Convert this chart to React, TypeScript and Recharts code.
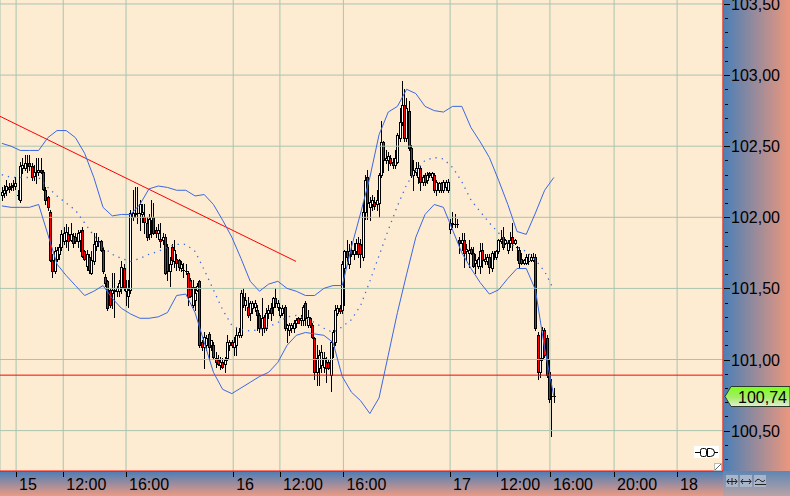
import {
  ComposedChart,
  Bar,
  Line,
  XAxis,
  YAxis,
  CartesianGrid,
  ReferenceLine,
} from "recharts";

// 15-minute candles, bar index 0..240
const open = [
  102.16, 102.17, 102.19, 102.21, 102.21, 102.22, 102.22, 102.16, 102.12, 102.35,
  102.35, 102.38, 102.38, 102.36, 102.29, 102.32, 102.32, 102.33, 102.32, 102.19,
  102.14, 102.04, 101.70, 101.62, 101.71, 101.74, 101.79, 101.83, 101.84, 101.88,
  101.84, 101.87, 101.86, 101.83, 101.84, 101.91, 101.76, 101.66, 101.72, 101.61,
  101.69, 101.80, 101.83, 101.83, 101.77, 101.58, 101.55, 101.49, 101.47, 101.48,
  101.48, 101.48, 101.51, 101.64, 101.48, 101.45, 101.49, 102.00, 102.02, 102.03,
  102.03, 102.02, 102.00, 101.96, 101.88, 101.98, 102.00, 101.91, 101.89, 101.85,
  101.84, 101.86, 101.79, 101.62, 101.79, 101.69, 101.71, 101.70, 101.64, 101.63,
  101.62, 101.61, 101.56, 101.38, 101.42, 101.49, 101.55, 101.12, 101.09, 101.10,
  101.18, 101.10, 101.10, 101.01, 101.00, 100.96, 100.98, 100.97, 101.01, 101.10,
  101.12, 101.09, 101.10, 101.17, 101.17, 101.44, 101.38, 101.37, 101.33, 101.36,
  101.37, 101.35, 101.31, 101.22, 101.30, 101.22, 101.33, 101.36, 101.37, 101.43,
  101.37, 101.31, 101.33, 101.37, 101.22, 101.21, 101.22, 101.22, 101.26, 101.29,
  101.28, 101.28, 101.40, 101.24, 101.29, 101.24, 101.15, 100.91, 100.94, 100.96,
  100.95, 100.98, 100.98, 100.89, 101.09, 101.12, 101.33, 101.36, 101.35, 101.64,
  101.76, 101.67, 101.77, 101.74, 101.76, 101.82, 101.81, 101.72, 102.04, 102.28,
  102.07, 102.09, 102.11, 102.09, 102.10, 102.30, 102.53, 102.40, 102.40, 102.42,
  102.39, 102.37, 102.39, 102.56, 102.67, 102.79, 102.56, 102.75, 102.49, 102.30,
  102.32, 102.28, 102.35, 102.25, 102.30, 102.26, 102.31, 102.28, 102.30, 102.19,
  102.19, 102.24, 102.19, 102.21, 102.19, 101.92, 101.95, 101.95, 101.95, 101.84,
  101.82, 101.84, 101.76, 101.75, 101.78, 101.75, 101.68, 101.66, 101.66, 101.77,
  101.69, 101.69, 101.72, 101.64, 101.74, 101.72, 101.76, 101.83, 101.86, 101.82,
  101.77, 101.82, 101.86, 101.82, 101.79, 101.77, 101.71, 101.68, 101.68, 101.69,
  101.70, 101.70, 101.72, 101.17, 100.91, 101.01, 101.21, 101.15, 100.91, 100.74,
  100.74,
];

const high = [
  102.21, 102.23, 102.26, 102.24, 102.24, 102.26, 102.28, 102.19, 102.39, 102.42,
  102.44, 102.44, 102.44, 102.38, 102.37, 102.42, 102.42, 102.42, 102.33, 102.21,
  102.15, 102.05, 101.74, 101.79, 101.79, 101.81, 101.91, 101.93, 101.95, 101.93,
  101.96, 101.89, 101.89, 101.91, 101.91, 101.93, 101.77, 101.77, 101.74, 101.76,
  101.89, 101.89, 101.86, 101.84, 101.79, 101.60, 101.56, 101.50, 101.61, 101.61,
  101.52, 101.56, 101.69, 101.67, 101.56, 101.56, 102.05, 102.19, 102.21, 102.21,
  102.12, 102.09, 102.09, 102.00, 102.02, 102.12, 102.10, 101.93, 101.95, 101.96,
  101.89, 101.88, 101.81, 101.72, 101.81, 101.84, 101.74, 101.71, 101.69, 101.68,
  101.67, 101.62, 101.57, 101.56, 101.51, 101.54, 101.56, 101.14, 101.19, 101.17,
  101.19, 101.14, 101.12, 101.05, 101.03, 101.02, 101.01, 101.02, 101.17, 101.14,
  101.14, 101.16, 101.23, 101.22, 101.49, 101.50, 101.47, 101.44, 101.41, 101.41,
  101.42, 101.38, 101.33, 101.43, 101.31, 101.36, 101.38, 101.40, 101.44, 101.50,
  101.42, 101.37, 101.38, 101.38, 101.25, 101.26, 101.26, 101.28, 101.29, 101.30,
  101.31, 101.38, 101.41, 101.35, 101.30, 101.26, 101.16, 101.10, 101.07, 101.10,
  101.05, 101.02, 101.00, 101.13, 101.21, 101.38, 101.38, 101.38, 101.69, 101.77,
  101.84, 101.81, 101.83, 101.82, 101.85, 101.86, 101.85, 102.11, 102.30, 102.33,
  102.14, 102.16, 102.14, 102.19, 102.31, 102.68, 102.54, 102.47, 102.46, 102.44,
  102.42, 102.47, 102.59, 102.77, 102.96, 102.90, 102.84, 102.82, 102.51, 102.40,
  102.39, 102.39, 102.36, 102.30, 102.31, 102.32, 102.32, 102.32, 102.31, 102.26,
  102.25, 102.25, 102.26, 102.26, 102.27, 101.99, 102.04, 102.02, 101.99, 101.86,
  101.89, 101.89, 101.81, 101.84, 101.79, 101.79, 101.74, 101.72, 101.82, 101.82,
  101.74, 101.74, 101.74, 101.76, 101.76, 101.77, 101.85, 101.91, 101.93, 101.85,
  101.84, 101.90, 101.96, 101.85, 101.80, 101.79, 101.75, 101.71, 101.74, 101.74,
  101.74, 101.75, 101.74, 101.19, 101.01, 101.23, 101.22, 101.17, 101.00, 100.86,
  100.80,
];

const low = [
  102.12, 102.14, 102.16, 102.18, 102.19, 102.19, 102.20, 102.13, 102.11, 102.31,
  102.33, 102.32, 102.33, 102.26, 102.26, 102.24, 102.30, 102.31, 102.19, 102.09,
  102.05, 101.69, 101.58, 101.61, 101.69, 101.71, 101.77, 101.81, 101.79, 101.77,
  101.83, 101.79, 101.82, 101.79, 101.76, 101.72, 101.70, 101.63, 101.61, 101.60,
  101.67, 101.77, 101.80, 101.76, 101.61, 101.52, 101.35, 101.37, 101.36, 101.30,
  101.45, 101.45, 101.47, 101.49, 101.38, 101.37, 101.47, 101.98, 102.00, 101.96,
  101.91, 101.97, 101.89, 101.84, 101.85, 101.86, 101.88, 101.86, 101.85, 101.79,
  101.81, 101.60, 101.56, 101.52, 101.67, 101.65, 101.63, 101.63, 101.62, 101.58,
  101.60, 101.38, 101.44, 101.37, 101.35, 101.48, 101.09, 101.07, 100.94, 101.07,
  101.01, 101.07, 101.01, 100.95, 100.96, 100.93, 100.94, 100.91, 101.00, 101.07,
  101.09, 101.03, 101.03, 101.16, 101.16, 101.37, 101.35, 101.30, 101.28, 101.33,
  101.34, 101.21, 101.19, 101.17, 101.19, 101.21, 101.29, 101.28, 101.31, 101.37,
  101.35, 101.30, 101.31, 101.21, 101.12, 101.17, 101.19, 101.19, 101.23, 101.26,
  101.24, 101.24, 101.24, 101.23, 101.23, 101.15, 100.86, 100.82, 100.82, 100.91,
  100.91, 100.84, 100.93, 100.78, 101.02, 101.10, 101.31, 101.33, 101.33, 101.38,
  101.69, 101.64, 101.73, 101.71, 101.74, 101.72, 101.65, 101.70, 101.99, 101.99,
  101.98, 102.05, 102.06, 102.05, 102.00, 102.28, 102.32, 102.38, 102.33, 102.37,
  102.35, 102.35, 102.38, 102.54, 102.65, 102.54, 102.54, 102.47, 102.28, 102.19,
  102.30, 102.24, 102.19, 102.23, 102.23, 102.24, 102.28, 102.26, 102.18, 102.16,
  102.18, 102.18, 102.18, 102.19, 102.18, 101.89, 101.93, 101.93, 101.93, 101.75,
  101.77, 101.65, 101.70, 101.65, 101.74, 101.65, 101.61, 101.64, 101.61, 101.65,
  101.67, 101.67, 101.61, 101.62, 101.71, 101.71, 101.75, 101.82, 101.78, 101.81,
  101.75, 101.79, 101.77, 101.81, 101.70, 101.65, 101.67, 101.67, 101.67, 101.67,
  101.69, 101.69, 101.21, 100.86, 100.88, 101.00, 101.02, 100.88, 100.70, 100.46,
  100.70,
];

const close = [
  102.18, 102.19, 102.22, 102.20, 102.22, 102.23, 102.24, 102.16, 102.36, 102.37,
  102.38, 102.38, 102.36, 102.28, 102.32, 102.32, 102.33, 102.32, 102.20, 102.12,
  102.07, 101.70, 101.62, 101.76, 101.77, 101.79, 101.88, 101.89, 101.90, 101.83,
  101.88, 101.82, 101.83, 101.89, 101.90, 101.73, 101.71, 101.74, 101.63, 101.70,
  101.81, 101.83, 101.83, 101.77, 101.62, 101.54, 101.36, 101.38, 101.49, 101.49,
  101.50, 101.54, 101.65, 101.51, 101.50, 101.49, 102.03, 102.03, 102.03, 102.03,
  102.09, 102.04, 101.97, 101.86, 101.99, 102.00, 101.89, 101.89, 101.91, 101.83,
  101.86, 101.61, 101.62, 101.67, 101.70, 101.77, 101.68, 101.65, 101.67, 101.63,
  101.62, 101.44, 101.45, 101.51, 101.47, 101.52, 101.10, 101.09, 101.16, 101.15,
  101.09, 101.14, 101.02, 100.98, 100.97, 100.98, 100.95, 101.00, 101.12, 101.12,
  101.10, 101.12, 101.17, 101.19, 101.47, 101.38, 101.42, 101.31, 101.40, 101.40,
  101.40, 101.31, 101.22, 101.29, 101.22, 101.33, 101.35, 101.33, 101.43, 101.40,
  101.40, 101.36, 101.36, 101.22, 101.24, 101.24, 101.24, 101.26, 101.28, 101.26,
  101.29, 101.37, 101.29, 101.30, 101.24, 101.16, 100.91, 101.01, 101.03, 101.05,
  101.01, 100.94, 100.94, 101.12, 101.19, 101.35, 101.36, 101.34, 101.67, 101.76,
  101.72, 101.76, 101.74, 101.77, 101.82, 101.74, 101.74, 102.04, 102.26, 102.10,
  102.11, 102.12, 102.08, 102.12, 102.30, 102.53, 102.40, 102.42, 102.43, 102.38,
  102.37, 102.42, 102.58, 102.67, 102.79, 102.56, 102.77, 102.49, 102.30, 102.33,
  102.35, 102.35, 102.25, 102.28, 102.25, 102.30, 102.30, 102.31, 102.19, 102.25,
  102.24, 102.19, 102.25, 102.25, 102.25, 101.96, 101.96, 101.95, 101.95, 101.82,
  101.84, 101.75, 101.78, 101.77, 101.75, 101.66, 101.70, 101.71, 101.76, 101.70,
  101.71, 101.72, 101.65, 101.75, 101.74, 101.76, 101.84, 101.85, 101.79, 101.84,
  101.82, 101.84, 101.82, 101.84, 101.79, 101.68, 101.68, 101.70, 101.72, 101.69,
  101.72, 101.72, 101.22, 100.91, 101.00, 101.21, 101.03, 100.89, 100.72, 100.74,
  100.74,
];

// Bollinger bands, read every 4th bar
const BB_STEP = 4;
const bbUpper = [
  102.52, 102.50, 102.47, 102.47, 102.47, 102.56, 102.61, 102.61, 102.56, 102.45,
  102.28, 102.07, 102.01, 102.02, 102.02, 102.09, 102.20, 102.22, 102.21, 102.19,
  102.19, 102.15, 102.16, 102.09, 101.98, 101.86, 101.71, 101.55, 101.48, 101.53,
  101.55, 101.50, 101.48, 101.45, 101.45, 101.50, 101.52, 101.52, 101.79, 102.03,
  102.28, 102.58, 102.74, 102.78, 102.90, 102.87, 102.78, 102.75, 102.74, 102.78,
  102.78, 102.63, 102.53, 102.42, 102.26, 102.09, 101.90, 101.88, 102.03, 102.19,
  102.28,
];
const bbMid = [
  102.30, 102.28, 102.28, 102.28, 102.28, 102.21, 102.15, 102.10, 102.05, 101.96,
  101.87, 101.79, 101.74, 101.71, 101.69, 101.71, 101.74, 101.76, 101.79, 101.81,
  101.81, 101.76, 101.63, 101.49, 101.35, 101.24, 101.21, 101.20, 101.21, 101.23,
  101.26, 101.30, 101.31, 101.29, 101.26, 101.22, 101.19, 101.23, 101.28, 101.38,
  101.55, 101.73, 101.91, 102.08, 102.23, 102.33, 102.40, 102.42, 102.41, 102.35,
  102.25, 102.12, 102.04, 101.96, 101.89, 101.82, 101.79, 101.76, 101.70, 101.62,
  101.49,
];
const bbLower = [
  102.08, 102.07, 102.07, 102.07, 102.09, 101.88, 101.67, 101.59, 101.52, 101.45,
  101.48, 101.52, 101.43, 101.36, 101.32, 101.29, 101.29, 101.30, 101.33, 101.45,
  101.46, 101.33, 101.12, 100.91, 100.79, 100.76, 100.80, 100.84, 100.88, 100.91,
  100.98, 101.10, 101.17, 101.19, 101.18, 101.17, 101.12, 100.88, 100.77, 100.71,
  100.62, 100.73, 101.03, 101.33, 101.60, 101.86, 102.02, 102.09, 102.07, 101.91,
  101.75, 101.64, 101.54, 101.46, 101.49, 101.57, 101.64, 101.64, 101.49, 101.08,
  100.74,
];

// time axis: positions in bar units and their labels
const xTickPos = [6.2, 26.7, 54.0, 100.6, 120.9, 148.5, 194.9, 215.3, 238.3, 266.2, 293.6];
const xTickLabels = ["15", "12:00", "16:00", "16", "12:00", "16:00", "17", "12:00", "16:00", "20:00", "18"];
const xDomain = [-0.8, 313.55];

const yDomain = [100.216, 103.528];
const majorTicks = [100.5, 101, 101.5, 102, 102.5, 103, 103.5];
const minorTicks: number[] = [];
for (let v = 1003; v <= 1035; v++) {
  if (v % 5 !== 0) minorTicks.push(v / 10);
}

const supportLevel = 100.89;
const trendLine = [
  { x: -0.8, y: 102.71 },
  { x: 127.9, y: 101.69 },
];
const lastPrice = 100.74;

const rows = open.map((o, i) => ({
  i,
  o,
  h: high[i],
  l: low[i],
  c: close[i],
  range: [low[i], high[i]],
  up: i % BB_STEP === 0 ? bbUpper[i / BB_STEP] ?? null : null,
  mid: i % BB_STEP === 0 ? bbMid[i / BB_STEP] ?? null : null,
  lo: i % BB_STEP === 0 ? bbLower[i / BB_STEP] ?? null : null,
}));

const FONT = '"Liberation Sans", Arial, sans-serif';
const GRID = "#a8c4b0";
const BAND = "#3b68e4";

const fmtPrice = (v: number) => v.toFixed(2).replace(".", ",");

function Candle(props: any) {
  const { x, y, width, height, payload } = props;
  if (!payload || y == null || height == null) return null;
  const { o, h, l, c } = payload;
  const k = h > l ? height / (h - l) : 0;
  const py = (v: number) => y + (h - v) * k;
  const cx = Math.round(x + width / 2) + 0.5;
  const bTop = Math.round(py(Math.max(o, c)));
  const bBot = Math.round(py(Math.min(o, c)));
  const bull = c >= o;
  return (
    <g shapeRendering="crispEdges">
      <line x1={cx} x2={cx} y1={Math.round(y)} y2={Math.round(y + height) + 1} stroke="#000" />
      {bBot - bTop < 1 ? (
        <line x1={cx - 1.5} x2={cx + 1.5} y1={bTop + 0.5} y2={bTop + 0.5} stroke="#000" />
      ) : (
        <rect
          x={cx - 1}
          y={bTop + 0.5}
          width={2}
          height={bBot - bTop}
          fill={bull ? "#ffffff" : "#ff0000"}
          stroke="#000"
        />
      )}
    </g>
  );
}

function TimeTick(props: any) {
  const { x, y, payload } = props;
  const idx = xTickPos.findIndex((p) => Math.abs(p - payload.value) < 1e-6);
  const xx = Math.round(x) + 0.5;
  return (
    <g>
      <line x1={xx} x2={xx} y1={y + 1} y2={y + 6} stroke="#000" shapeRendering="crispEdges" />
      <text x={x + 3} y={y + 19} fontSize={16} fontFamily={FONT} fill="#000">
        {idx >= 0 ? xTickLabels[idx] : ""}
      </text>
    </g>
  );
}

function PriceTick(props: any) {
  const { x, y, payload } = props;
  const v = payload.value;
  const major = majorTicks.some((m) => Math.abs(m - v) < 1e-6);
  const yy = Math.round(y) + 0.5;
  if (!major) {
    return <line x1={x + 2} x2={x + 5} y1={yy} y2={yy} stroke="#000" shapeRendering="crispEdges" />;
  }
  return (
    <g>
      <line x1={x + 1} x2={x + 7} y1={yy} y2={yy} stroke="#000" shapeRendering="crispEdges" />
      <text x={x + 8} y={y + 6} fontSize={16} fontFamily={FONT} fill="#000">
        {fmtPrice(v)}
      </text>
    </g>
  );
}

function PriceTag(props: any) {
  const vb = props.viewBox;
  if (!vb) return null;
  const x0 = vb.x + vb.width;
  const yc = Math.round(vb.y) + 0.5;
  const pts = [
    [x0 + 2, yc],
    [x0 + 8, yc - 10],
    [x0 + 67, yc - 10],
    [x0 + 67, yc + 10],
    [x0 + 8, yc + 10],
  ]
    .map((p) => p.join(","))
    .join(" ");
  return (
    <g>
      <defs>
        <linearGradient id="tagGrad" x1="0" y1="0" x2="0" y2="1">
          <stop offset="0%" stopColor="#7cff1a" />
          <stop offset="55%" stopColor="#a6ec6a" />
          <stop offset="100%" stopColor="#e4eed8" />
        </linearGradient>
      </defs>
      <polygon points={pts} fill="url(#tagGrad)" stroke="#2a3a2a" strokeWidth={1} />
      <text x={x0 + 15} y={yc + 6} fontSize={16} fontFamily={FONT} fill="#000">
        {fmtPrice(lastPrice)}
      </text>
    </g>
  );
}

export default function App() {
  return (
    <div
      style={{
        position: "absolute",
        left: 0,
        top: 0,
        width: 790,
        height: 496,
        overflow: "hidden",
        fontFamily: FONT,
      }}
    >
      {/* axis strips */}
      <div
        style={{
          position: "absolute",
          left: 723,
          top: 0,
          width: 67,
          height: 471,
          background: "linear-gradient(to right, #4a7fb7, #ec977d)",
        }}
      />
      <div
        style={{
          position: "absolute",
          left: 0,
          top: 471,
          width: 723,
          height: 25,
          background: "linear-gradient(to bottom, #4a7db8, #eb9b83)",
        }}
      />
      <div
        style={{
          position: "absolute",
          left: 723,
          top: 471,
          width: 67,
          height: 25,
          background: "linear-gradient(to bottom, #5f86b3, #b9a4a6)",
        }}
      />

      <div style={{ position: "absolute", left: 0, top: 0 }}>
        <ComposedChart width={790} height={496} data={rows} margin={{ top: 0, right: 0, bottom: 0, left: 0 }}>
          <CartesianGrid horizontal={false} stroke={GRID} fill="#fdecd1" fillOpacity={1} />
          <XAxis
            dataKey="i"
            type="number"
            domain={xDomain}
            ticks={xTickPos}
            interval={0}
            height={25}
            allowDataOverflow
            axisLine={{ stroke: "#ff0000" }}
            tickLine={false}
            tickSize={0}
            tickMargin={0}
            tick={<TimeTick />}
          />
          <YAxis
            orientation="right"
            type="number"
            domain={yDomain}
            ticks={[...majorTicks, ...minorTicks].sort((a, b) => a - b)}
            interval={0}
            width={67}
            allowDataOverflow
            axisLine={{ stroke: "#ff0000" }}
            tickLine={false}
            tickSize={0}
            tickMargin={0}
            tick={<PriceTick />}
          />

          {majorTicks.map((v) => (
            <ReferenceLine key={v} y={v} stroke={GRID} strokeWidth={1} />
          ))}
          <ReferenceLine y={supportLevel} stroke="#ff0000" strokeWidth={1} />
          <ReferenceLine segment={trendLine} stroke="#ff0000" strokeWidth={1} />

          <Bar dataKey="range" barSize={2} shape={<Candle />} isAnimationActive={false} />

          <Line
            dataKey="up"
            stroke={BAND}
            strokeWidth={1}
            dot={false}
            connectNulls
            isAnimationActive={false}
          />
          <Line
            dataKey="lo"
            stroke={BAND}
            strokeWidth={1}
            dot={false}
            connectNulls
            isAnimationActive={false}
          />
          <Line
            dataKey="mid"
            stroke={BAND}
            strokeWidth={1.3}
            strokeDasharray="1.3 5"
            dot={false}
            connectNulls
            isAnimationActive={false}
          />

          <ReferenceLine
            y={lastPrice}
            stroke="none"
            ifOverflow="visible"
            label={(p: any) => <PriceTag viewBox={p.viewBox} />}
          />
        </ComposedChart>
      </div>

      {/* small window widgets */}
      <svg style={{ position: "absolute", left: 0, top: 0 }} width={790} height={496}>
        <rect x={694} y={446} width={25} height={12} fill="#ffffff" />
        <line x1={695} x2={700} y1={452.5} y2={452.5} stroke="#000" />
        <rect x={700.5} y={448.5} width={6} height={8} rx={2} fill="#fff" stroke="#000" />
        <path d="M707.5 448.5 h3 a4 4 0 0 1 0 8 h-3 z" fill="#fff" stroke="#000" />
        <line x1={714} x2={718} y1={452.5} y2={452.5} stroke="#000" />
        <rect x={714.5} y={463.5} width={7} height={7} fill="#fff" stroke="#bbb" />
        <line x1={715} x2={721} y1={470} y2={464} stroke="#666" />

        {[726, 740, 754].map((bx) => (
          <rect key={bx} x={bx} y={475} width={12} height={12} fill="#a9b5c8" />
        ))}
        <path d="M727 481.5 h10 M729 479 l-2 2.5 l2 2.5 M735 479 l2 2.5 l-2 2.5 M732 478 v7" stroke="#222" fill="none" />
        <path d="M741 481.5 h10 M743 479 l-2 2.5 l2 2.5 M749 479 l2 2.5 l-2 2.5" stroke="#222" fill="none" />
        <path d="M755 482 q3 -5 6 -1 q2 2 4 -1 M755 484.5 h11" stroke="#222" fill="none" />
      </svg>
    </div>
  );
}
